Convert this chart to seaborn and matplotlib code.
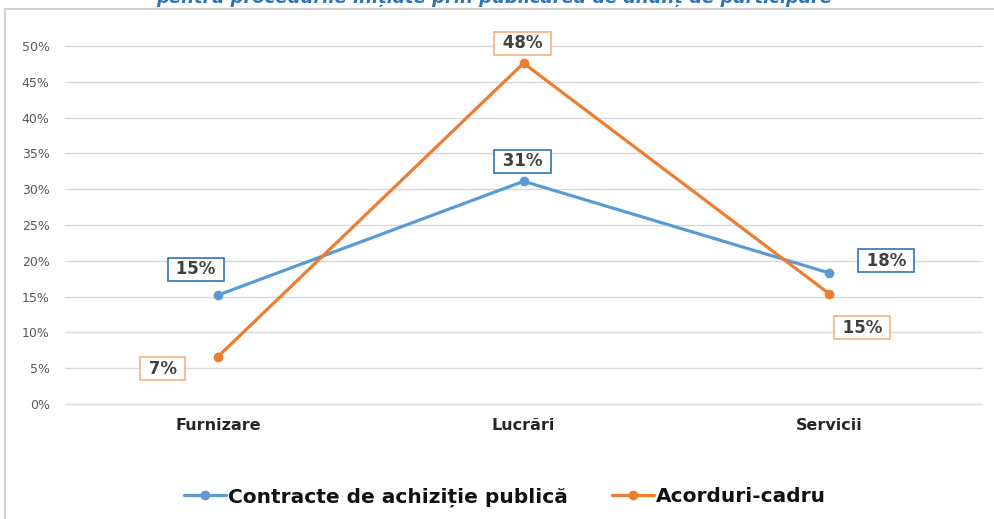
import matplotlib
matplotlib.use("Agg")
import matplotlib.pyplot as plt
from matplotlib.lines import Line2D
from matplotlib.ticker import PercentFormatter
import seaborn as sns
import pandas as pd

# ---- data ----
categories = ["Furnizare", "Lucrări", "Servicii"]
series_names = ["Contracte de achiziție publică", "Acorduri-cadru"]
contracte = [0.152, 0.311, 0.183]
acorduri = [0.066, 0.476, 0.154]
title_text = "pentru procedurile inițiate prin publicarea de anunț de participare"

rows = []
for name, vals in zip(series_names, [contracte, acorduri]):
    for c, v in zip(categories, vals):
        rows.append({"Categorie": c, "Valoare": v, "Serie": name})
df = pd.DataFrame(rows)

sns.set_style("white")
plt.rcParams["font.family"] = ["DejaVu Sans"]

colors = {series_names[0]: "#5B9BD5", series_names[1]: "#ED7D31"}
box_edges = {series_names[0]: "#2E75B6", series_names[1]: "#F4B183"}

fig = plt.figure(figsize=(9.94, 5.19), dpi=100)
ax = fig.add_axes([0.0654, 0.2216, 0.988 - 0.0654, 0.9114 - 0.2216])

sns.lineplot(data=df, x="Categorie", y="Valoare", hue="Serie", palette=colors,
             marker="o", markersize=7, markeredgewidth=0, linewidth=2.3,
             sort=False, ax=ax)

ax.set_xlim(-0.5, 2.5)
ax.set_ylim(0, 0.5)
ax.set_yticks([i * 0.05 for i in range(11)])
ax.yaxis.set_major_formatter(PercentFormatter(1.0, decimals=0))
ax.yaxis.grid(True, color="#D9D9D9", linewidth=1)
ax.xaxis.grid(False)
ax.set_axisbelow(True)
for gl in ax.get_ygridlines():
    gl.set_clip_on(False)
for s in ax.spines.values():
    s.set_visible(False)
ax.set_xlabel("")
ax.set_ylabel("")
ax.tick_params(axis="y", length=0, pad=11, labelsize=9, labelcolor="#595959")
ax.tick_params(axis="x", length=0, pad=10, labelsize=11.5, labelcolor="#262626")
for t in ax.get_xticklabels():
    t.set_fontweight("bold")

# data labels
offsets = {
    series_names[0]: [(-22, 26), (-1, 20), (57, 12)],
    series_names[1]: [(-55, -12), (-1, 20), (33, -34)],
}
for name, vals in zip(series_names, [contracte, acorduri]):
    for i, v in enumerate(vals):
        ax.annotate(f" {v:.0%} ", xy=(i, v), xytext=offsets[name][i],
                    textcoords="offset pixels", ha="center", va="center",
                    fontsize=12, fontweight="bold", color="#404040",
                    annotation_clip=False,
                    bbox=dict(boxstyle="square,pad=0.15", fc="white",
                              ec=box_edges[name], lw=1.2))

# legend
handles, labels = ax.get_legend_handles_labels()
ax.get_legend().remove()
fig.legend(handles, labels, loc="center", bbox_to_anchor=(505 / 994, 1 - 497 / 519),
           ncol=2, frameon=False, handlelength=2.1, handletextpad=0.1,
           columnspacing=2.2, prop={"size": 14.5, "weight": "bold"},
           labelcolor="#111111")

# cut-off title and frame
fig.text(0.497, 1 - 3 / 519, title_text, ha="center", va="baseline",
         fontsize=13, fontweight="bold", fontstyle="italic", color="#2E75B6")
fig.add_artist(Line2D([5 / 994, 1], [1 - 9 / 519, 1 - 9 / 519],
                      transform=fig.transFigure, color="#D0D0D0", lw=1.5))
fig.add_artist(Line2D([5 / 994, 5 / 994], [0, 1 - 9 / 519],
                      transform=fig.transFigure, color="#D0D0D0", lw=1.5))

fig.savefig("out.png", dpi=100)
